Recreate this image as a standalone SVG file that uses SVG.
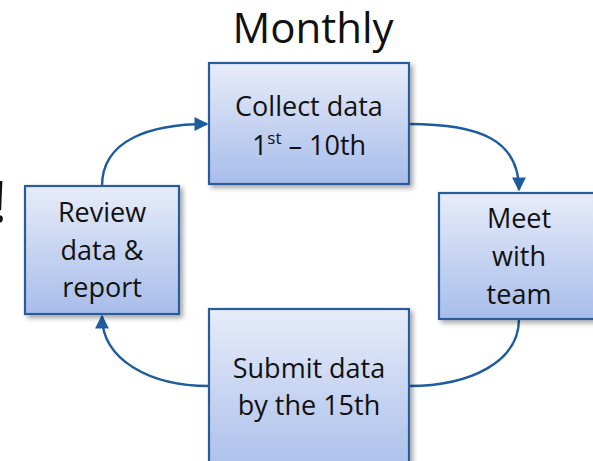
<svg xmlns="http://www.w3.org/2000/svg" width="593" height="461" viewBox="0 0 593 461">
<defs>
<linearGradient id="g" x1="0" y1="0" x2="0" y2="1">
<stop offset="0" stop-color="#e7ecf9"/>
<stop offset="1" stop-color="#a7bdea"/>
</linearGradient>
<filter id="sh" x="-10%" y="-10%" width="130%" height="130%">
<feDropShadow dx="3" dy="3" stdDeviation="2.5" flood-color="#000" flood-opacity="0.35"/>
</filter>
<marker id="ah" viewBox="0 0 10 10" refX="9" refY="5" markerWidth="5.8" markerHeight="5.8" markerUnits="strokeWidth" orient="auto">
<path d="M0,0 L10,5 L0,10 Z" fill="#1f5c9e"/>
</marker>
<style>
.box{fill:url(#g);stroke:#2a5c9c;stroke-width:2.2;filter:url(#sh)}
.t{font-family:"Open Sans","Liberation Sans",sans-serif;font-size:27px;fill:#111;text-anchor:middle}
.c{fill:none;stroke:#1f5c9e;stroke-width:2.4}
</style>
</defs>
<rect width="593" height="461" fill="#fff"/>
<text x="7" y="222" font-family="Open Sans, sans-serif" font-size="56" text-anchor="end" fill="#111">!</text>
<text x="313" y="43" font-family="Open Sans, sans-serif" font-size="42" text-anchor="middle" fill="#111">Monthly</text>
<g id="connectors">
<path class="c" d="M102,186 C102,140 150,124 207,124" marker-end="url(#ah)"/>
<path class="c" d="M409,124 C480,124 519,140 519,190" marker-end="url(#ah)"/>
<path class="c" d="M519,319 C519,362 470,386 409,386"/>
<path class="c" d="M209,386 C150,386 102,360 102,316" marker-end="url(#ah)"/>
</g>
<g id="collect">
<rect class="box" x="209" y="63" width="200" height="121"/>
<text class="t" x="309" y="116">Collect data</text>
<text class="t" x="309" y="155">1<tspan font-size="17" dy="-11">st</tspan><tspan dy="11"> – 10th</tspan></text>
</g>
<g id="meet">
<rect class="box" x="439" y="193" width="162" height="126"/>
<text class="t" x="519" y="228">Meet</text>
<text class="t" x="519" y="266">with</text>
<text class="t" x="519" y="304">team</text>
</g>
<g id="submit">
<rect class="box" x="209" y="309" width="200" height="170"/>
<text class="t" x="309" y="378">Submit data</text>
<text class="t" x="309" y="415">by the 15th</text>
</g>
<g id="review">
<rect class="box" x="25" y="186" width="154" height="128"/>
<text class="t" x="102" y="222">Review</text>
<text class="t" x="102" y="260">data &amp;</text>
<text class="t" x="102" y="297">report</text>
</g>
</svg>
